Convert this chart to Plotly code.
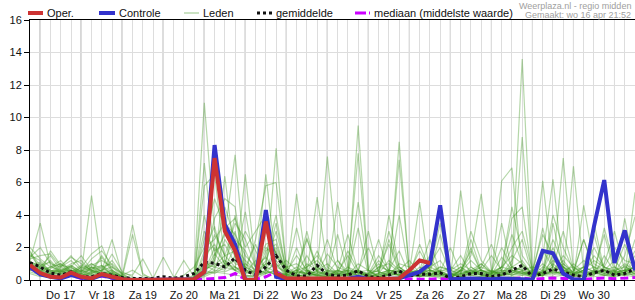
import plotly.graph_objects as go
import pandas as pd

# ---------------- data ----------------
times = pd.date_range("2025-04-16 18:00", periods=60, freq="6h")
day_labels = ["Do 17", "Vr 18", "Za 19", "Zo 20", "Ma 21", "Di 22", "Wo 23",
              "Do 24", "Vr 25", "Za 26", "Zo 27", "Ma 28", "Di 29", "Wo 30"]

oper = [0.92, 0.43, 0.2, 0.15, 0.45, 0.2, 0.1, 0.37, 0.2, 0.05,
        0, 0, 0, 0, 0, 0, 0.05, 0.5, 7.5, 3.0,
        1.8, 0, 0, 3.6, 0.4, 0.1, 0.08, 0.08, 0.1, 0.1,
        0.08, 0.08, 0.1, 0.08, 0.08, 0.08, 0.1, 0.6, 1.2, 1.05]

controle = [0.8, 0.35, 0.2, 0.1, 0.3, 0.15, 0.08, 0.3, 0.15, 0.03,
            0, 0, 0, 0, 0, 0, 0.05, 0.5, 8.3, 3.4,
            2.2, 0, 0, 4.3, 0.2, 0.05, 0.05, 0.05, 0.05, 0.08,
            0.05, 0.08, 0.2, 0.05, 0.05, 0.05, 0.1, 0.3, 0.5, 1.0,
            4.6, 0.05, 0.1, 0.1, 0.08, 0.05, 0.1, 0.1, 0.05, 0.02,
            1.8, 1.65, 0.4, 0.05, 0.0, 3.3, 6.15, 1.05, 3.05, 0.6]

gemiddelde = [1.07, 0.8, 0.43, 0.3, 0.5, 0.2, 0.2, 0.4, 0.3, 0.15,
              0.1, 0.1, 0.1, 0.2, 0.1, 0.2, 0.4, 1.1, 1.03, 0.8,
              1.35, 0.6, 0.3, 0.8, 1.5, 0.6, 0.25, 0.25, 0.9, 0.35,
              0.25, 0.3, 0.57, 0.2, 0.15, 0.3, 0.55, 0.25, 0.35, 0.35,
              0.45, 0.1, 0.2, 0.4, 0.4, 0.2, 0.3, 0.6, 0.9, 0.2,
              0.4, 0.67, 0.5, 0.3, 0.2, 0.45, 0.6, 0.3, 0.4, 0.7]

mediaan = [0.75, 0.35, 0.2, 0.15, 0.3, 0.1, 0.1, 0.25, 0.1, 0.0,
           0, 0, 0, 0, 0, 0, 0.0, 0.05, 0.1, 0.15,
           0.4, 0.05, 0.05, 0.2, 0.5, 0.1, 0.05, 0.05, 0.08, 0.05,
           0.05, 0.05, 0.08, 0.03, 0.03, 0.05, 0.08, 0.05, 0.05, 0.05,
           0.08, 0.02, 0.05, 0.08, 0.08, 0.05, 0.08, 0.1, 0.12, 0.05,
           0.1, 0.12, 0.1, 0.05, 0.05, 0.1, 0.12, 0.08, 0.1, 0.15]

leden = [
    [1.2, 3.5,0.9,0.4,0.6, 0.3,0.5,0.3,0.2, 0,0,0,0, 0,0,0,0.3, 10.9,3.0,1.5,0.8, 0.3,0.2,1.8,2.2, 0.5,0.3,0.2,0.6, 7.6,1.2,0.3,0.2, 0,0.2,0.5,0.3, 0.2,0.8,0.4,0.2, 0.1,0.6,1.8,0.5, 0.2,0.3,1.0,13.6, 0.5,0.2,1.5,0.8, 0.3,0.2,0.6,0.4, 0.2,0.9,0.3],
    [0.8, 1.0,0.6,0.5,0.9, 0.5,5.2,0.8,0.4, 0.1,0,0,0, 0,0,0,0, 7.2,1.5,2.8,7.7, 1.0,0.3,0.5,8.1, 0.6,0.2,0.4,0.3, 0.2,0.4,0.3,9.5, 0.6,0.2,0.3,8.5, 0.4,0.2,0.3,0.1, 0.2,5.5,0.8,0.3, 0.2,0.5,0.4,0.9, 0.2,1.4,6.2,0.6, 0.4,0.2,0.3,1.5, 0.5,0.3,5.4],
    [1.6, 0.7,1.2,0.5,0.3, 0.8,1.6,2.1,0.6, 0.2,0,0,0, 0,0,0,0.1, 5.8,6.5,1.2,0.6, 6.5,0.8,0.4,0.6, 0.2,5.3,0.6,0.2, 0.3,0.2,0.4,0.6, 0.2,0.3,0.5,7.4, 0.5,4.8,0.3,0.2, 0.1,0.2,0.4,0.6, 0.3,6.1,6.9,0.5, 0.2,0.4,0.8,7.5, 0.6,0.4,0.3,0.8, 0.4,0.6,0.2],
    [0.6, 0.5,0.4,0.6,0.8, 0.3,0.4,0.6,2.5, 0.3,3.4,0.4,0, 0,0,0,0, 4.0,1.0,6.4,1.2, 4.2,0.6,6.5,1.0, 0.3,0.6,0.4,5.1, 0.8,0.3,0.4,0.5, 0.3,0.2,0.4,0.3, 0.6,0.3,1.2,0.4, 0.2,0.6,1.5,5.3, 0.6,0.3,0.8,1.2, 0.3,6.1,0.6,0.3, 7.0,0.5,0.4,0.3, 0.2,3.8,0.5],
    [2.0, 1.3,0.8,1.0,0.6, 0.4,0.8,0.5,0.3, 0.2,2.8,0.3,0.1, 0,0,0,0, 1.2,3.8,5.0,4.5, 0.5,2.5,5.8,6.0, 0.8,0.4,1.5,0.5, 0.4,4.8,0.8,0.5, 0.2,0.4,1.2,0.6, 0.3,0.5,1.0,2.0, 0.4,0.3,2.5,0.6, 1.5,0.6,0.5,8.8, 0.3,0.5,1.2,0.8, 0.2,4.6,1.0,0.6, 1.2,0.5,0.8],
    [1.0, 0.6,0.3,0.5,0.7, 0.6,0.9,1.2,0.8, 0.4,0.3,1.3,0.1, 1.4,0.2,0.1,0.2, 2.5,5.0,3.2,3.8, 2.0,3.0,4.0,1.5, 0.4,0.8,0.3,0.6, 1.0,0.4,0.6,7.8, 0.5,0.3,4.0,0.8, 0.3,0.5,0.6,3.5, 0.4,0.2,0.5,0.3, 0.2,0.8,4.5,1.5, 0.6,0.4,1.0,0.5, 0.3,0.6,2.0,0.8, 0.5,1.0,0.6],
    [0.9, 0.8,1.5,0.6,0.4, 0.2,0.5,0.9,0.5, 0.1,0,0,0, 0,0.1,1.2,0.2, 3.0,1.8,2.2,1.0, 0.8,0.5,1.0,3.5, 0.6,0.3,0.8,1.2, 0.5,0.6,0.3,4.8, 0.6,0.5,0.3,0.4, 0.5,1.8,0.6,0.4, 0.3,0.8,0.4,1.0, 0.5,0.4,1.2,2.5, 0.3,0.8,0.6,1.5, 0.8,0.4,0.3,3.2, 0.8,0.4,0.3],
    [1.4, 2.0,1.0,0.8,1.5, 0.7,1.0,0.5,1.6, 0.5,0.2,0,0, 0,0,0.3,0.8, 2.0,2.5,3.5,2.8, 1.5,0.8,2.2,2.5, 0.3,0.5,0.4,0.3, 0.6,0.5,1.5,0.4, 0.2,0.8,0.6,0.5, 0.3,0.2,0.5,0.8, 0.6,1.0,0.6,0.4, 0.3,0.6,2.0,3.0, 0.6,2.8,1.5,0.8, 0.4,0.5,1.5,0.8, 2.0,1.2,1.0],
    [0.7, 0.4,0.5,0.9,1.4, 1.0,0.6,0.4,0.3, 0.1,0,0,0, 0,0,0,0, 0.8,1.2,3.0,2.0, 1.2,0.6,1.5,4.0, 0.5,1.5,0.6,0.4, 1.6,0.8,0.5,0.3, 0.4,1.0,0.5,0.3, 0.6,0.4,0.8,0.5, 0.3,0.5,3.0,1.2, 0.5,2.0,0.8,0.6, 0.8,0.6,4.0,2.0, 0.6,1.2,0.8,0.6, 0.4,0.6,1.8],
    [1.1, 0.9,0.6,0.3,0.6, 0.5,1.3,1.8,0.9, 0.3,0.1,0,0, 0,0,0,0, 1.5,2.2,1.0,3.0, 0.4,1.2,0.8,0.5, 0.3,0.4,2.5,0.8, 0.4,1.2,0.5,0.6, 2.0,0.5,0.3,1.0, 0.8,0.4,0.6,0.3, 0.2,0.6,0.4,0.8, 2.2,0.5,0.3,0.6, 0.4,0.3,0.6,1.0, 0.5,2.5,0.6,0.4, 0.6,2.2,0.8],
    [0.5, 0.3,0.4,0.7,0.5, 0.4,0.3,0.5,0.4, 0,0,0,0, 0,0,0,0, 0.3,0.8,1.2,0.6, 0.2,0.3,0.6,1.0, 0.2,0.3,0.2,0.4, 0.3,0.2,0.4,0.3, 0.2,0.3,0.6,0.4, 0.3,0.2,0.5,0.3, 0.2,0.4,0.3,0.2, 0.3,0.5,0.3,0.4, 0.2,0.3,0.5,0.4, 0.3,0.2,0.5,0.6, 0.3,0.5,0.4],
    [1.8, 0.6,0.8,1.2,0.5, 0.9,0.6,1.5,0.6, 0.2,0,0,0, 0,0,0,0, 0.6,1.0,0.8,2.0, 0.8,0.4,3.0,1.6, 0.3,0.2,1.0,0.6, 0.3,0.6,2.8,0.5, 0.4,1.5,0.6,1.8, 0.3,0.6,2.5,0.4, 0.3,0.4,0.6,0.3, 0.4,0.8,1.5,1.0, 0.3,0.5,2.0,0.6, 0.4,0.6,2.8,0.5, 0.6,0.4,2.5],
    [0.9, 1.1,0.3,0.2,0.4, 0.2,0.8,0.3,0.2, 0,0,0,0, 0,0,0,0, 0.5,1.6,0.8,1.2, 0.6,0.4,1.0,0.8, 1.2,0.6,0.3,0.2, 0.2,0.3,0.8,0.2, 0.1,0.2,0.3,4.0, 0.4,0.2,0.3,0.6, 0.2,0.4,0.6,0.3, 0.2,0.3,0.5,0.4, 0.3,0.6,0.4,0.3, 0.2,0.3,0.5,0.3, 0.4,0.3,0.6],
    [1.3, 1.5,1.6,0.8,1.2, 0.6,0.4,0.8,1.0, 0.4,0,0,0, 0,0,0,0, 1.8,3.3,0.8,0.6, 0.4,0.6,2.0,1.4, 0.8,1.0,0.5,0.3, 0.2,0.5,0.3,0.6, 0.3,0.8,1.0,0.5, 0.2,0.4,0.3,0.6, 0.6,0.3,0.5,0.6, 0.3,1.4,0.6,0.4, 0.2,0.5,0.8,0.5, 0.3,0.6,0.4,0.6, 0.3,0.5,0.8],
    [0.4, 0.2,0.3,0.4,0.3, 0.2,0.3,0.2,0.4, 0,0,0,0, 0,0,0,0, 0.2,0.5,0.4,0.3, 0.2,0.1,0.4,0.6, 0.2,0.3,0.2,0.3, 0.2,0.2,0.3,0.2, 0.1,0.2,0.3,0.2, 0.2,0.3,0.2,0.3, 0.1,0.2,0.3,0.2, 0.2,0.3,0.2,0.3, 0.2,0.3,0.2,0.3, 0.2,0.3,0.2,0.3, 0.2,0.3,0.2],
    [1.5, 1.2,0.5,0.6,1.0, 1.2,0.5,0.6,0.3, 0.2,0,0,0, 0,0,0,0, 0.9,0.6,2.5,1.5, 3.0,1.8,0.6,0.3, 0.4,0.6,0.8,1.5, 0.6,0.4,0.3,1.0, 0.6,0.2,0.4,0.6, 1.2,0.4,0.3,0.8, 0.6,1.5,0.4,0.6, 0.4,0.3,0.6,0.5, 0.4,1.0,0.5,0.4, 1.0,0.5,0.8,0.4, 0.5,0.4,1.2],
    [0.6, 0.8,0.5,0.3,0.5, 0.4,0.6,0.4,0.2, 0.3,0.6,0.2,0, 0,0,0,0, 0.4,0.5,1.0,0.8, 0.5,0.3,0.4,1.2, 0.3,2.0,0.4,0.3, 0.2,0.6,0.4,0.3, 0.2,0.4,0.6,0.5, 0.3,0.5,0.4,0.3, 0.4,0.2,0.8,0.4, 0.3,0.5,0.8,0.6, 0.4,0.3,0.5,0.4, 0.3,0.4,0.5,0.3, 0.4,0.3,0.4],
    [1.0, 0.5,0.8,0.6,0.3, 0.3,0.4,0.6,0.8, 0.2,0,0,0, 0,0,0,0, 0.7,0.9,1.5,1.8, 0.6,0.5,0.8,2.0, 0.5,0.4,0.6,0.3, 0.5,0.3,0.2,0.4, 0.3,0.6,2.2,0.5, 0.4,0.3,0.8,1.2, 0.3,0.6,0.4,0.5, 0.6,0.3,0.4,0.8, 0.5,0.4,0.3,0.6, 0.4,0.8,0.5,0.6, 0.5,0.6,0.4],
    [0.8, 0.7,0.4,0.5,0.6, 0.5,1.0,0.7,0.4, 0.1,0,0,0, 0,0,0,0, 0.3,0.6,0.5,0.8, 0.3,0.2,0.5,0.4, 0.3,0.2,0.4,0.5, 0.3,0.4,0.3,0.5, 0.2,0.3,0.4,0.3, 0.5,0.3,0.2,0.4, 0.3,0.2,0.4,0.3, 0.5,0.4,0.3,0.5, 0.3,0.5,0.4,0.6, 0.5,0.3,0.4,0.5, 0.3,0.4,0.5],
    [1.2, 0.4,1.8,0.9,0.8, 1.5,0.6,0.3,0.5, 0,0,0,0, 0,0,0,0, 1.0,0.8,0.6,1.5, 0.8,2.2,0.6,0.3, 0.2,0.3,0.5,0.8, 0.4,0.5,0.6,0.4, 0.3,1.2,0.4,0.3, 0.5,0.6,1.5,0.4, 0.2,0.3,0.6,1.0, 0.4,0.6,0.5,0.3, 0.6,0.4,0.6,1.2, 0.4,0.6,1.2,0.8, 0.6,0.8,0.5],
    [0.9, 0.6,0.4,0.8,0.5, 0.6,0.3,0.4,0.6, 0.2,0,0,0, 0,0,0,0, 0.5,2.0,1.0,0.6, 1.0,0.6,3.5,0.8, 0.5,3.2,0.6,0.4, 0.3,0.4,1.8,0.6, 0.4,0.6,3.0,0.8, 0.3,2.2,0.6,0.4, 0.6,0.4,2.0,0.5, 0.4,3.5,0.6,0.4, 0.5,1.8,0.8,3.0, 0.6,0.8,3.5,0.6, 0.4,1.5,3.9],
    [1.7, 0.9,1.1,0.4,0.8, 0.4,0.7,0.9,0.3, 0.1,0,0,0, 0,0,0,0, 0.4,1.4,4.5,2.5, 1.8,0.4,1.2,3.0, 0.6,0.4,3.0,0.5, 2.5,0.6,0.4,3.2, 0.3,0.4,2.5,0.6, 0.5,0.3,0.4,2.8, 0.4,0.8,0.3,0.6, 0.5,0.8,3.8,4.5, 0.4,0.3,3.5,0.6, 0.8,0.4,0.6,1.0, 3.0,0.6,0.8],
    [0.6, 0.5,0.7,1.0,0.4, 0.8,0.5,1.4,0.5, 0.2,0,0,0, 0,0,0,0, 0.6,0.4,0.8,4.0, 0.6,0.3,0.6,1.8, 0.4,0.6,2.6,0.5, 0.4,2.8,0.4,0.5, 3.0,0.4,0.6,0.5, 0.6,0.4,0.6,0.5, 2.0,0.4,0.5,0.8, 0.5,0.6,2.8,1.0, 0.4,3.2,0.6,0.8, 0.5,2.5,0.6,2.8, 0.5,0.6,0.8],
    [1.1, 0.8,0.6,0.5,0.9, 0.5,0.8,0.6,1.2, 0.3,0,0,0, 0,0,0,0.2, 1.0,2.8,1.5,3.5, 2.5,0.8,1.4,0.6, 0.3,0.5,0.4,1.8, 0.4,0.3,0.6,0.5, 0.6,2.5,0.4,0.8, 0.4,0.6,0.3,0.5, 0.8,0.5,1.2,0.6, 0.4,0.8,0.6,0.5, 0.3,0.6,2.5,1.0, 0.4,0.8,0.5,0.6, 0.8,0.4,1.5],
]

# ---------------- figure ----------------
W, H = 635, 300
ML, MR, MT, MB = 30, 0, 20, 20
FONT = "Liberation Sans, Arial, sans-serif"

RED = "#cc3333"
BLUE = "#3333cc"
GREEN = "rgba(60,150,30,0.38)"
MAGENTA = "#cc00ff"

fig = go.Figure()

for k, m in enumerate(leden):
    fig.add_trace(go.Scatter(x=times[:len(m)], y=m, mode="lines",
                             line=dict(color=GREEN, width=1.2),
                             name="Leden", showlegend=False, hoverinfo="skip"))

fig.add_trace(go.Scatter(x=times[:len(mediaan)], y=mediaan, mode="lines",
                         line=dict(color=MAGENTA, width=3, dash="8px,4px"),
                         name="mediaan (middelste waarde)", showlegend=False))
fig.add_trace(go.Scatter(x=times[:len(gemiddelde)], y=gemiddelde, mode="lines",
                         line=dict(color="#111111", width=3, dash="dot"),
                         name="gemiddelde", showlegend=False))
fig.add_trace(go.Scatter(x=times[:len(controle)], y=controle, mode="lines",
                         line=dict(color=BLUE, width=4),
                         name="Controle", showlegend=False))
fig.add_trace(go.Scatter(x=times[:len(oper)], y=oper, mode="lines",
                         line=dict(color=RED, width=4),
                         name="Oper.", showlegend=False))

# x ticks: every 6h, label at noon of each day
tickvals = list(times)
ticktext = []
label_iter = iter(day_labels)
for t in times:
    if t.hour == 12 and t.day != 16:
        ticktext.append(next(label_iter, ""))
    else:
        ticktext.append("")

shapes = []
# day boundary lines
for t in times:
    if t.hour == 0:
        shapes.append(dict(type="line", xref="x", yref="paper", x0=t, x1=t,
                           y0=0, y1=1, line=dict(color="#555555", width=1),
                           layer="below"))

pw = W - ML - MR
ph = H - MT - MB


def px(xp):
    return (xp - ML) / pw


def py(yp):
    return (H - MB - yp) / ph


annotations = []
legend_items = [
    ("Oper.", 28, 43, dict(color=RED, width=4)),
    ("Controle", 99, 115, dict(color=BLUE, width=4)),
    ("Leden", 184, 199, dict(color="rgba(60,150,30,0.45)", width=1.2)),
    ("gemiddelde", 257, 272, dict(color="#111111", width=3, dash="dot")),
    ("mediaan (middelste waarde)", 355, 370, dict(color=MAGENTA, width=3, dash="11px,3px,2px,3px")),
]
LY = 13
for text, x0, x1, ln in legend_items:
    shapes.append(dict(type="line", xref="paper", yref="paper",
                       x0=px(x0), x1=px(x1), y0=py(LY), y1=py(LY), line=ln))
    annotations.append(dict(xref="paper", yref="paper", x=px(x1 + 2), y=py(LY),
                            xanchor="left", yanchor="middle", showarrow=False,
                            text=text, font=dict(family=FONT, size=11, color="#111111")))

annotations.append(dict(xref="paper", yref="paper", x=px(633), y=py(6),
                        xanchor="right", yanchor="middle", showarrow=False,
                        text="Weerplaza.nl - regio midden",
                        font=dict(family=FONT, size=9, color="#a0a0a0")))
annotations.append(dict(xref="paper", yref="paper", x=px(633), y=py(15),
                        xanchor="right", yanchor="middle", showarrow=False,
                        text="Gemaakt: wo 16 apr 21:52",
                        font=dict(family=FONT, size=9, color="#a0a0a0")))

fig.update_layout(
    width=W, height=H,
    margin=dict(l=ML, r=MR, t=MT, b=MB, pad=0),
    paper_bgcolor="white", plot_bgcolor="white",
    showlegend=False,
    shapes=shapes, annotations=annotations,
    font=dict(family=FONT, size=11, color="#111111"),
    xaxis=dict(type="date", range=[times[0], times[-1]],
               tickmode="array", tickvals=tickvals, ticktext=ticktext,
               ticks="outside", ticklen=5, tickcolor="#000000", tickwidth=1,
               showgrid=True, gridcolor="#dddddd", gridwidth=1,
               showline=True, linecolor="#000000", linewidth=1, mirror=True,
               zeroline=False, tickfont=dict(family=FONT, size=11, color="#111111"),
               fixedrange=True),
    yaxis=dict(range=[0, 16], tickmode="array",
               tickvals=[0, 2, 4, 6, 8, 10, 12, 14, 16],
               ticks="outside", ticklen=5, tickcolor="#000000",
               showgrid=True, gridcolor="#dddddd", gridwidth=1,
               showline=True, linecolor="#000000", linewidth=1,
               zeroline=False, tickfont=dict(family=FONT, size=11, color="#111111"),
               fixedrange=True),
)

fig.write_html("out.html", config={"displayModeBar": False})
